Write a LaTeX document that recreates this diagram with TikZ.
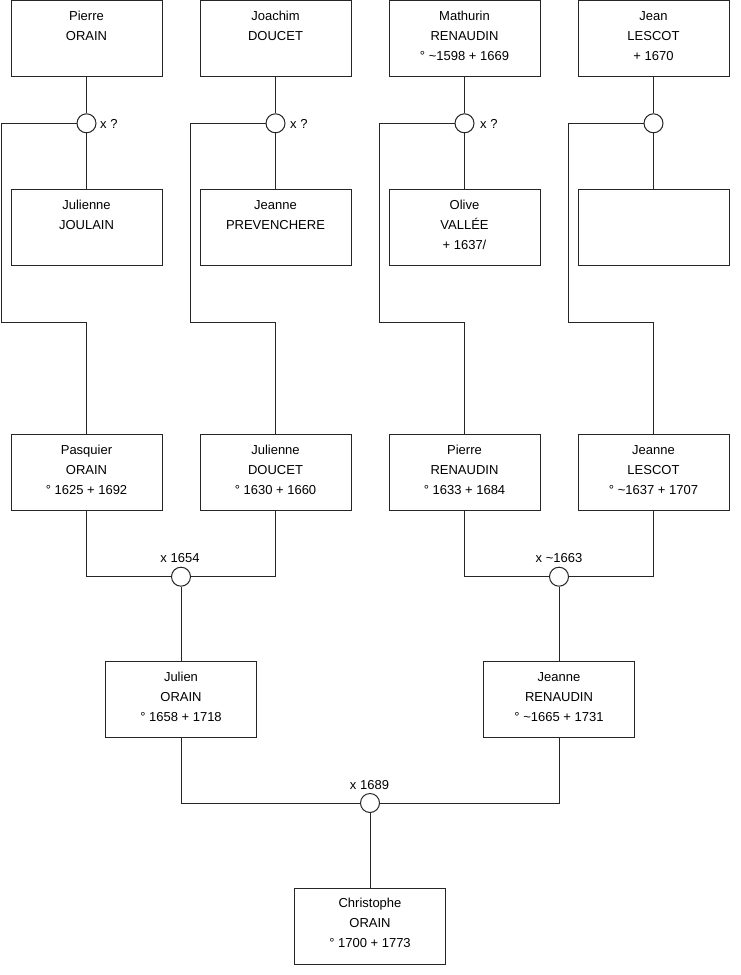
\documentclass[tikz,border=0pt]{standalone}
\usepackage{fontspec}
\setmainfont{Liberation Sans}
\begin{document}
\begin{tikzpicture}[x=1pt,y=-1pt,
  person/.style={draw=black!85, line width=1pt, minimum width=151pt, minimum height=76pt, inner sep=0pt, fill=white},
  ptext/.style={align=center, font=\fontsize{13}{20}\selectfont, inner sep=0pt, yshift=2.4pt},
  union/.style={circle, draw=black!85, fill=white, line width=1pt, minimum size=19pt, inner sep=0pt},
  conn/.style={draw=black!85, line width=1pt},
  ulabel/.style={font=\fontsize{13}{16}\selectfont, inner sep=0pt}]
\useasboundingbox (0,0) rectangle (740,975);
\newcommand\personbox[6]{%
  \node[person] (#1) at (#2,#3) {};
  \node[ptext] (#1t) at (#2,#3) {\strut #4\\\strut #5\\\strut #6};}
% row 1
\personbox{a1}{86.5}{38.5}{Pierre}{ORAIN}{}
\personbox{a2}{275.5}{38.5}{Joachim}{DOUCET}{}
\personbox{a3}{464.5}{38.5}{Mathurin}{RENAUDIN}{° \textasciitilde1598 + 1669}
\personbox{a4}{653.5}{38.5}{Jean}{LESCOT}{+ 1670}
% row 2
\personbox{b1}{86.5}{227.5}{Julienne}{JOULAIN}{}
\personbox{b2}{275.5}{227.5}{Jeanne}{PREVENCHERE}{}
\personbox{b3}{464.5}{227.5}{Olive}{VALLÉE}{+ 1637/}
\personbox{b4}{653.5}{227.5}{}{}{}
% row 3
\personbox{c1}{86.5}{472.5}{Pasquier}{ORAIN}{° 1625 + 1692}
\personbox{c2}{275.5}{472.5}{Julienne}{DOUCET}{° 1630 + 1660}
\personbox{c3}{464.5}{472.5}{Pierre}{RENAUDIN}{° 1633 + 1684}
\personbox{c4}{653.5}{472.5}{Jeanne}{LESCOT}{° \textasciitilde1637 + 1707}
% row 4
\personbox{d1}{181}{699.5}{Julien}{ORAIN}{° 1658 + 1718}
\personbox{d2}{559}{699.5}{Jeanne}{RENAUDIN}{° \textasciitilde1665 + 1731}
% row 5
\personbox{e1}{370}{926}{Christophe}{ORAIN}{° 1700 + 1773}
% unions
\node[union] (u1) at (86.5,123.3) {};
\node[union] (u2) at (275.5,123.3) {};
\node[union] (u3) at (464.5,123.3) {};
\node[union] (u4) at (653.5,123.3) {};
\node[union] (u5) at (181,576.7) {};
\node[union] (u6) at (559,576.7) {};
\node[union] (u7) at (370,803) {};
% union labels
\node[ulabel, anchor=base west] (l1) at (100,128) {x ?};
\node[ulabel, anchor=base west] (l2) at (290,128) {x ?};
\node[ulabel, anchor=base west] (l3) at (480,128) {x ?};
\node[ulabel, anchor=base] (l5) at (180,562.7) {x 1654};
\node[ulabel, anchor=base] (l6) at (559,562.7) {x \textasciitilde1663};
\node[ulabel, anchor=base] (l7) at (369.5,789.6) {x 1689};
% bend coordinates
\coordinate (k1) at (1.5,322);
\coordinate (k2) at (190.5,322);
\coordinate (k3) at (379.5,322);
\coordinate (k4) at (568.5,322);
% connectors
\draw[conn] (a1) -- (u1); \draw[conn] (u1) -- (b1);
\draw[conn] (a2) -- (u2); \draw[conn] (u2) -- (b2);
\draw[conn] (a3) -- (u3); \draw[conn] (u3) -- (b3);
\draw[conn] (a4) -- (u4); \draw[conn] (u4) -- (b4);
\draw[conn] (u1.west) -| (k1) -| (c1.north);
\draw[conn] (u2.west) -| (k2) -| (c2.north);
\draw[conn] (u3.west) -| (k3) -| (c3.north);
\draw[conn] (u4.west) -| (k4) -| (c4.north);
\draw[conn] (c1.south) |- (u5.west);
\draw[conn] (c2.south) |- (u5.east);
\draw[conn] (c3.south) |- (u6.west);
\draw[conn] (c4.south) |- (u6.east);
\draw[conn] (u5) -- (d1);
\draw[conn] (u6) -- (d2);
\draw[conn] (d1.south) |- (u7.west);
\draw[conn] (d2.south) |- (u7.east);
\draw[conn] (u7) -- (e1);
\end{tikzpicture}
\end{document}
